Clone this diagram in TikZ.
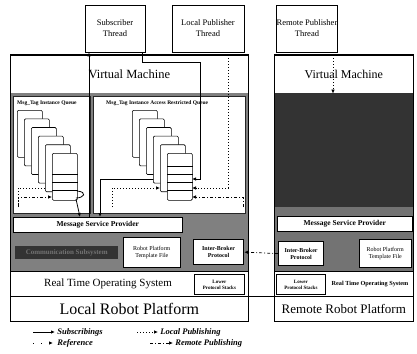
\documentclass[tikz,border=0pt]{standalone}
\usepackage{fontspec}
\setmainfont{Liberation Serif}
\usetikzlibrary{arrows.meta}
\begin{document}
\begin{tikzpicture}[x=1pt,y=-1pt,
  every node/.style={inner sep=0pt},
  boxc/.style={draw, line width=0.6pt, fill=white, anchor=north west, align=center},
  thr/.style={draw, line width=0.6pt, fill=white, align=center, font=\fontsize{8.5}{11}\selectfont},
  page/.style={draw, line width=0.6pt, fill=white, rounded corners=1.2pt, anchor=north west,
               minimum width=25pt, minimum height=47pt},
  panel/.style={draw=black!85, line width=1.2pt, fill=white, anchor=north west},
  small/.style={font=\fontsize{6}{6.8}\selectfont\bfseries},
  subs/.style={line width=0.8pt, -{Latex[length=4pt,width=3.5pt]}},
  locp/.style={line width=0.7pt, dash pattern=on 1pt off 2pt, -{Latex[length=4pt,width=3.5pt]}},
  remp/.style={line width=0.7pt, dash pattern=on 3pt off 2pt on 1pt off 2pt, -{Latex[length=4pt,width=3.5pt]}},
  refp/.style={line width=0.9pt, dash pattern=on 1pt off 7pt, -{Latex[length=4pt,width=3.5pt]}},
  legt/.style={anchor=west, font=\fontsize{8.5}{9}\selectfont\bfseries\itshape}]
\useasboundingbox (0,0) rectangle (417,353);

% ---------- thread boxes ----------
\node[thr, minimum width=60pt, minimum height=47pt] (sub)  at (115,28.5) {Subscriber\\Thread};
\node[thr, minimum width=72pt, minimum height=47pt] (lpub) at (208,28.5) {Local Publisher\\Thread};
\node[thr, minimum width=58pt, minimum height=47pt] (rpub) at (307,28.5) {Remote Publisher\\Thread};

% ---------- local broker ----------
\node[boxc, minimum width=238pt, minimum height=38pt, font=\fontsize{12.5}{14}\selectfont] (lvm) at (10,55) {Virtual Machine};
\node[boxc, draw=none, fill=black!50, minimum width=238pt, minimum height=178pt] (lcore) at (10,93) {};
\node[panel, minimum width=77pt, minimum height=117pt] (lqa) at (13,96) {};
\node[panel, minimum width=152pt, minimum height=117pt] (lqb) at (93,96) {};
\node[small, anchor=west, font=\fontsize{5.5}{6}\selectfont\bfseries] (lqat) at (17,103) {Msg\_Tag Instance Queue};
\node[small, anchor=west, font=\fontsize{5.5}{6}\selectfont\bfseries] (lqbt) at (106,103) {Msg\_Tag Instance Access Restricted Queue};

\node[boxc, minimum width=169pt, minimum height=15pt, font=\fontsize{7.5}{8}\selectfont\bfseries] (lmsp) at (13,217) {Message Service Provider};
\node[anchor=north west, fill=black!80, minimum width=103pt, minimum height=13pt,
      text=black!55, font=\fontsize{7}{8}\selectfont\bfseries] (lcs) at (15,246) {Communication Subsystem};
\node[boxc, minimum width=57pt, minimum height=30pt, font=\fontsize{6}{7.5}\selectfont] (lrpt) at (123,237) {Robot Platform\\Template File};
\node[boxc, line width=1.2pt, minimum width=50pt, minimum height=25pt, small] (libp) at (193,239) {Inter-Broker\\Protocol};
\node[boxc, minimum width=238pt, minimum height=25pt] (lrtos) at (10,271) {};
\node[font=\fontsize{11}{12}\selectfont] (lrtost) at (108,284) {Real Time Operating System};
\node[boxc, line width=0.8pt, minimum width=50pt, minimum height=20pt, font=\fontsize{5}{6}\selectfont\bfseries] (llps) at (194,274) {Lower\\Protocol Stacks};
\node[boxc, minimum width=238pt, minimum height=25pt, font=\fontsize{16}{18}\selectfont] (lrp) at (10,296) {Local Robot Platform};
\draw[line width=1pt] (lvm.north west) rectangle (lrp.south east);

% ---------- remote broker ----------
\node[boxc, minimum width=139pt, minimum height=38pt, font=\fontsize{12}{14}\selectfont] (rvm) at (274,55) {Virtual Machine};
\node[boxc, draw=none, fill=black!55, minimum width=139pt, minimum height=178pt] (rcore) at (274,93) {};
\node[boxc, draw=none, fill=black!80, minimum width=139pt, minimum height=114pt] (rdark) at (274,93) {};
\node[boxc, minimum width=135pt, minimum height=15pt, font=\fontsize{7.5}{8}\selectfont\bfseries] (rmsp) at (277,216) {Message Service Provider};
\node[boxc, line width=1.2pt, minimum width=45pt, minimum height=24pt, small] (ribp) at (278,241) {Inter-Broker\\Protocol};
\node[boxc, minimum width=52pt, minimum height=28pt, font=\fontsize{6}{7.5}\selectfont] (rrpt) at (359,239) {Robot Platform\\Template File};
\node[boxc, minimum width=139pt, minimum height=25pt] (rrtos) at (274,271) {};
\node[boxc, line width=0.8pt, minimum width=49pt, minimum height=20pt, font=\fontsize{5}{6}\selectfont\bfseries] (rlps) at (276,274) {Lower\\Protocol Stacks};
\node[font=\fontsize{6.2}{7}\selectfont\bfseries] (rrtost) at (370,284) {Real Time Operating System};
\node[boxc, minimum width=139pt, minimum height=25pt, font=\fontsize{13}{15}\selectfont] (rrp) at (274,296) {Remote Robot Platform};
\draw[line width=1pt] (rvm.north west) rectangle (rrp.south east);

% ---------- connectors drawn under the queues ----------
\coordinate (bl) at (18,207);
\coordinate (br) at (243,207);
\draw[subs] (167,179) -- (100,179) -- (lmsp.north -| 100,0);
\draw[subs] (sub.south -| 142,0) -- (142,62) -- (200,62) -- (200,179) -- (192,179);
\draw[locp] (lpub.south -| 228,0) -- (228,188) -- (192,188);
\draw[locp] (112,207) -- (112,188) -- (160,188);
\draw[remp] (br) -- (243,197) -- (192,197);
\draw[locp] (bl) -- (18,188) -- (52,188);
\draw[remp] (bl) -- (18,197) -- (52,197);

% ---------- queues ----------
\foreach \i in {0,...,5} {
  \node[page] (lq\i) at ({17+7*\i},{110+8.6*\i}) {};
  \node[page] (rq\i) at ({132+7*\i},{110+8.6*\i}) {};
}
\foreach \yy in {174,182,190} \draw[line width=0.6pt] (lq5.west |- 0,\yy) -- (lq5.east |- 0,\yy);
\foreach \yy in {166,174,182,190} \draw[line width=0.6pt] (rq5.west |- 0,\yy) -- (rq5.east |- 0,\yy);

% ---------- connectors over the queues ----------
\draw[subs] (lmsp.north -| 89,0) -- (sub.south -| 89,0);
\draw[line width=0.8pt] (77,191) .. controls (88,192) and (84,198) .. (76,198);
\draw[subs] (76,199) -- (lmsp.north -| 80,0);
\draw[locp] (rpub.south -| 333,0) -- (rvm.south -| 333,0);
\draw[remp] (ribp.west) -- (libp.east);
\draw[line width=0.6pt] (lrp.north east) -- (rrp.north west);

% ---------- legend ----------
\coordinate (k1) at (33,332);
\coordinate (k2) at (137,332);
\coordinate (k3) at (33,343);
\coordinate (k4) at (150,343);
\draw[subs] (k1) -- ++(22,0) node[legt, xshift=2pt] (t1) {Subscribings};
\draw[locp] (k2) -- ++(21,0) node[legt, xshift=2pt] (t2) {Local Publishing};
\draw[refp] (k3) -- ++(20,0) node[legt, xshift=4pt] (t3) {Reference};
\draw[remp] (k4) -- ++(23,0) node[legt, xshift=2pt] (t4) {Remote Publishing};
\end{tikzpicture}
\end{document}
